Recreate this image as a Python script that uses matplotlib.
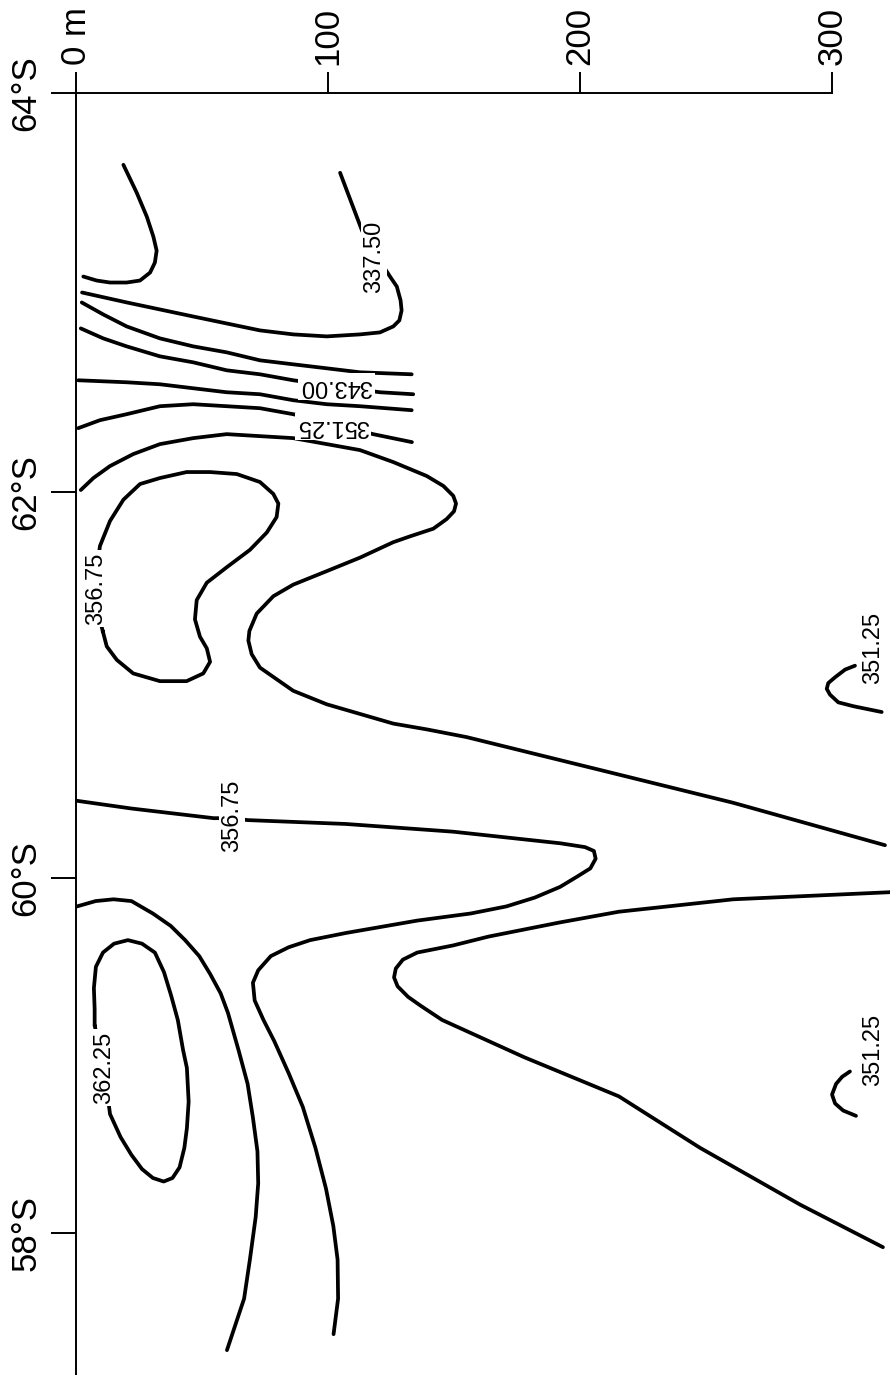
import numpy as np
import matplotlib
matplotlib.use("Agg")
import matplotlib.pyplot as plt

plt.rcParams['font.family'] = ['Liberation Sans', 'DejaVu Sans']

# axes: depth (m) along the top, latitude (deg S) down the left side
depth_ticks = [0, 100, 200, 300]
depth_tick_labels = ["0 m", "100", "200", "300"]
lat_ticks = [64, 62, 60, 58]
lat_tick_labels = ["64°S", "62°S", "60°S", "58°S"]

# isolines (depth in m, latitude in deg S)
iso_a_depth = [18.8, 24.1, 28.1, 30.7, 32.0, 31.3, 29.4, 25.4, 20.1, 13.5, 8.2, 2.9]
iso_a_lat = [63.64, 63.50, 63.38, 63.28, 63.21, 63.15, 63.10, 63.06, 63.05, 63.05, 63.06, 63.08]

iso_b_depth = [104.8, 113.5, 119.0, 124.6, 127.3, 128.8, 129.2, 128.3, 125.9, 120.6, 112.7, 99.5,
               86.2, 73.0, 46.4, 20.2, 2.4]
iso_b_lat = [63.60, 63.31, 63.19, 63.08, 63.03, 62.96, 62.91, 62.86, 62.83, 62.80, 62.79, 62.78,
             62.79, 62.81, 62.88, 62.95, 63.00]

iso_c_depth = [2.3, 10.8, 20.1, 33.3, 46.5, 59.8, 73.0, 86.2, 99.5, 112.7, 133.2]
iso_c_lat = [62.95, 62.89, 62.83, 62.77, 62.73, 62.70, 62.66, 62.64, 62.62, 62.60, 62.59]

iso_d_depth = [1.9, 10.8, 20.1, 33.3, 46.5, 59.8, 73.0, 86.2, 103.2, 120.6, 133.8]
iso_d_lat = [62.82, 62.77, 62.73, 62.68, 62.65, 62.61, 62.59, 62.56, 62.53, 62.50, 62.49]

iso_e_depth = [0.9, 20.1, 33.3, 46.5, 59.8, 73.0, 86.2, 99.5, 112.7, 133.2]
iso_e_lat = [62.56, 62.55, 62.54, 62.52, 62.50, 62.49, 62.46, 62.44, 62.43, 62.41]

iso_f_depth = [0.9, 9.5, 20.1, 33.3, 46.5, 59.8, 73.0, 86.2, 102.0, 117.9, 133.3]
iso_f_lat = [62.32, 62.36, 62.39, 62.43, 62.44, 62.43, 62.42, 62.39, 62.34, 62.29, 62.25]

iso_g_depth = [1.9, 6.9, 13.5, 22.7, 33.3, 46.5, 59.8, 73.0, 86.2, 99.5, 112.7, 125.9, 139.2, 145.8,
               149.7, 150.8, 150.0, 147.1, 141.8, 132.5, 125.9, 112.7, 99.5, 86.2, 78.3, 71.7, 68.8,
               68.4, 69.7, 73.0, 79.6, 86.2, 99.5, 112.7, 125.9, 139.2, 155.0, 207.9, 260.7, 321.0]
iso_g_lat = [62.01, 62.07, 62.13, 62.19, 62.24, 62.27, 62.29, 62.28, 62.27, 62.24, 62.21, 62.15, 62.08,
             62.03, 61.98, 61.94, 61.90, 61.86, 61.81, 61.77, 61.74, 61.66, 61.59, 61.52, 61.46, 61.37,
             61.28, 61.23, 61.16, 61.09, 61.03, 60.97, 60.90, 60.85, 60.80, 60.77, 60.73, 60.56, 60.39,
             60.17]

iso_h_depth = [10.6, 12.2, 16.2, 22.7, 33.3, 43.9, 50.5, 53.2, 51.9, 49.2, 47.2, 47.9, 51.9, 59.8,
               69.0, 75.7, 79.6, 80.3, 78.3, 73.0, 63.8, 53.2, 43.9, 33.3, 25.4, 18.8, 13.5, 9.5,
               8.3, 7.9, 8.7, 10.6]
iso_h_lat = [61.28, 61.20, 61.13, 61.06, 61.02, 61.02, 61.06, 61.12, 61.19, 61.25, 61.34, 61.44,
             61.53, 61.61, 61.70, 61.79, 61.87, 61.94, 61.99, 62.05, 62.09, 62.10, 62.10, 62.07,
             62.04, 61.96, 61.85, 61.72, 61.60, 61.49, 61.38, 61.28]

iso_i_depth = [0.4, 22.0, 54.6, 61.9, 68.1, 107.0, 149.6, 177.9, 192.1, 202.0, 205.5, 206.2, 204.1,
               199.2, 192.1, 182.1, 170.8, 156.6, 135.4, 107.0, 92.9, 84.4, 77.3, 72.3, 70.2, 70.9,
               74.4, 78.7, 84.4, 90.0, 95.0, 99.2, 102.1, 103.8, 104.0, 102.2]
iso_i_lat = [60.40, 60.36, 60.31, 60.31, 60.30, 60.28, 60.24, 60.20, 60.18, 60.16, 60.14, 60.10, 60.05,
             60.01, 59.95, 59.89, 59.84, 59.80, 59.76, 59.69, 59.65, 59.61, 59.56, 59.48, 59.41, 59.31,
             59.20, 59.08, 58.90, 58.71, 58.48, 58.25, 58.04, 57.85, 57.63, 57.43]

iso_j_depth = [0.4, 7.8, 14.9, 22.0, 30.5, 37.6, 43.3, 48.9, 53.2, 57.4, 60.3, 64.5, 68.1, 70.2,
               72.0, 72.3, 71.3, 69.0, 66.7, 59.9]
iso_j_lat = [59.84, 59.87, 59.88, 59.87, 59.80, 59.73, 59.65, 59.56, 59.46, 59.35, 59.24, 59.03, 58.84,
             58.65, 58.46, 58.28, 58.09, 57.85, 57.63, 57.34]

iso_k_depth = [7.4, 7.4, 7.1, 7.9, 10.7, 15.1, 20.6, 26.2, 31.3, 34.9, 37.7, 40.4, 42.5, 44.0, 44.7,
               44.0, 43.0, 41.1, 38.3, 34.8, 30.5, 26.2, 22.0, 17.7, 13.5, 12.3, 11.1, 9.2, 7.4]
iso_k_lat = [59.17, 59.26, 59.38, 59.50, 59.58, 59.63, 59.65, 59.63, 59.58, 59.47, 59.34, 59.20, 59.03,
             58.93, 58.74, 58.59, 58.48, 58.37, 58.31, 58.29, 58.31, 58.36, 58.44, 58.54, 58.67, 58.80,
             58.93, 59.05, 59.17]

iso_l_depth = [323.0, 260.8, 215.4, 192.1, 163.7, 149.6, 135.4, 129.7, 126.9, 126.2, 127.6, 131.8,
               136.8, 145.3, 177.9, 215.4, 247.6, 287.3, 320.2]
iso_l_lat = [59.92, 59.88, 59.81, 59.75, 59.67, 59.62, 59.58, 59.54, 59.49, 59.44, 59.39, 59.33,
             59.28, 59.20, 58.99, 58.77, 58.48, 58.16, 57.92]

iso_m_depth = [309.1, 305.2, 301.2, 298.5, 297.9, 299.2, 302.5, 308.5, 319.7]
iso_m_lat = [61.10, 61.08, 61.04, 61.01, 60.98, 60.95, 60.91, 60.89, 60.86]

iso_n_depth = [307.1, 304.0, 301.6, 300.0, 301.2, 304.4, 309.5]
iso_n_lat = [58.91, 58.88, 58.84, 58.78, 58.73, 58.69, 58.66]

isolines = [(iso_a_depth, iso_a_lat), (iso_b_depth, iso_b_lat), (iso_c_depth, iso_c_lat),
            (iso_d_depth, iso_d_lat), (iso_e_depth, iso_e_lat), (iso_f_depth, iso_f_lat),
            (iso_g_depth, iso_g_lat), (iso_h_depth, iso_h_lat), (iso_i_depth, iso_i_lat),
            (iso_j_depth, iso_j_lat), (iso_k_depth, iso_k_lat), (iso_l_depth, iso_l_lat),
            (iso_m_depth, iso_m_lat), (iso_n_depth, iso_n_lat)]

# isoline labels
label_text = ["337.50", "343.00", "351.25", "356.75", "356.75", "362.25", "351.25", "351.25"]
label_depth = [118.3, 103.2, 102.0, 7.9, 61.9, 11.1, 316.3, 316.3]
label_lat = [63.18, 62.53, 62.33, 61.50, 60.32, 58.93, 61.19, 59.03]
label_angle = [90, 180, 180, 90, 90, 90, 90, 90]

# the hand-drawn latitude axis is unevenly spaced: tick positions (px from top) on the original
scale_lat = [56, 58, 60, 62, 64, 65]
scale_pos = [-1588, -1233, -878, -492, -93, 106.5]


def lat_forward(v):
    return np.interp(v, scale_lat, scale_pos)


def lat_inverse(u):
    return np.interp(u, scale_pos, scale_lat)


fig = plt.figure(figsize=(8.9, 13.75), dpi=100)
ax = fig.add_axes([76 / 890, 0, 814 / 890, 1282 / 1375])
ax.set_yscale('function', functions=(lat_forward, lat_inverse))

for depth, lat in isolines:
    ax.plot(depth, lat, color='black', lw=2.7, solid_capstyle='round', solid_joinstyle='round', zorder=2)

for text, d, l, angle in zip(label_text, label_depth, label_lat, label_angle):
    ax.text(d, l, text, rotation=angle, ha='center', va='center', fontsize=17, zorder=3,
            bbox=dict(boxstyle='square,pad=0.1', fc='white', ec='none'))

ax.set_xlim(0, 323.0)
ax.set_ylim(57.20, 64)

ax.spines['right'].set_visible(False)
ax.spines['bottom'].set_visible(False)
ax.spines['top'].set_bounds(0, 300)
for side in ['top', 'left']:
    ax.spines[side].set_linewidth(1.4)

ax.set_xticks(depth_ticks)
ax.set_yticks(lat_ticks)
ax.minorticks_off()
ax.tick_params(axis='x', top=True, bottom=False, labeltop=True, labelbottom=False, direction='out',
               length=15, width=1.4, pad=5)
ax.tick_params(axis='y', left=True, right=False, direction='out', length=18, width=1.4, pad=6)
ax.set_xticklabels(depth_tick_labels, rotation=90, ha='center', va='bottom', fontsize=25)
ax.set_yticklabels(lat_tick_labels, rotation=90, ha='right', va='center', fontsize=25)
for lab in ax.get_xticklabels() + ax.get_yticklabels():
    lab.set_rotation_mode('default')

fig.savefig("out.png", dpi=100)
